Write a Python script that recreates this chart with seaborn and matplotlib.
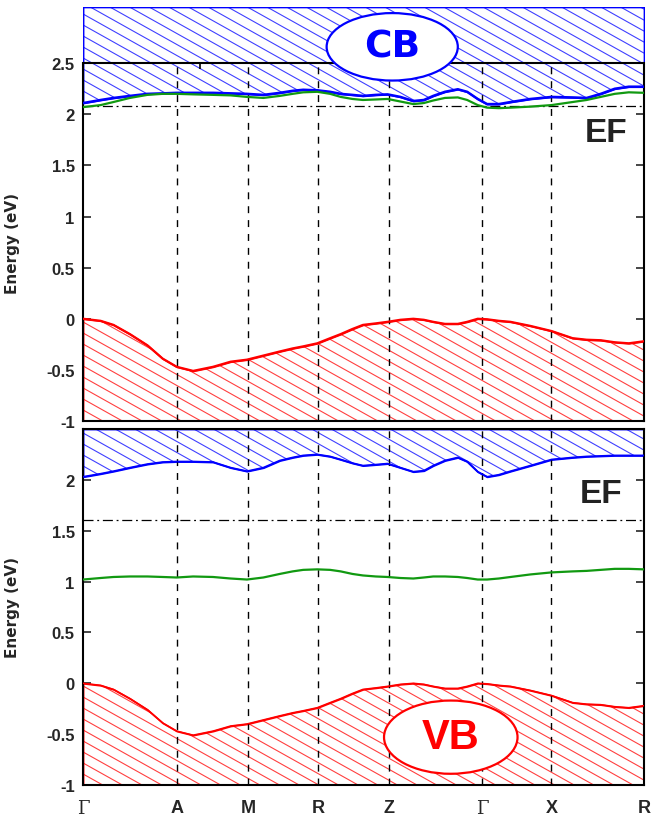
import numpy as np
import pandas as pd
import seaborn as sns
import matplotlib
matplotlib.use("Agg")
import matplotlib.pyplot as plt
from matplotlib.collections import LineCollection
from matplotlib.patches import Ellipse
from matplotlib.ticker import FuncFormatter

# k-path positions and labels
kpoints = [0.0, 0.80, 1.41, 2.01, 2.61, 3.41, 4.00, 4.79]
klabels = ["\u0393", "A", "M", "R", "Z", "\u0393", "X", "R"]

# sampled k grid (shared by all bands)
k = [0.00, 0.15, 0.26, 0.40, 0.55, 0.68, 0.80, 0.94, 1.11, 1.26, 1.40,
     1.54, 1.68, 1.79, 1.88, 2.00, 2.11, 2.20, 2.30, 2.39, 2.50, 2.60,
     2.71, 2.82, 2.91, 2.99, 3.09, 3.20, 3.28, 3.37, 3.45, 3.55, 3.65,
     3.82, 4.00, 4.18, 4.30, 4.42, 4.54, 4.66, 4.79]

# top panel: conduction band edge and impurity band
cb_top = [2.11, 2.14, 2.16, 2.18, 2.20, 2.205, 2.21, 2.21, 2.21, 2.205, 2.20,
          2.19, 2.21, 2.23, 2.24, 2.235, 2.22, 2.20, 2.19, 2.18, 2.19, 2.195,
          2.17, 2.13, 2.14, 2.18, 2.22, 2.245, 2.22, 2.15, 2.10, 2.10, 2.12,
          2.15, 2.17, 2.165, 2.16, 2.20, 2.25, 2.27, 2.27]
imp_top = [2.07, 2.09, 2.12, 2.16, 2.19, 2.20, 2.20, 2.195, 2.19, 2.185, 2.17,
           2.16, 2.18, 2.20, 2.215, 2.22, 2.20, 2.17, 2.15, 2.14, 2.145, 2.15,
           2.125, 2.10, 2.11, 2.135, 2.16, 2.165, 2.14, 2.09, 2.065, 2.06, 2.065,
           2.075, 2.09, 2.12, 2.14, 2.17, 2.20, 2.215, 2.21]

# valence band edge (same in both panels)
vb = [0.00, -0.02, -0.06, -0.15, -0.26, -0.39, -0.47, -0.51, -0.47, -0.42, -0.40,
      -0.36, -0.32, -0.29, -0.27, -0.24, -0.19, -0.15, -0.10, -0.06, -0.045, -0.03,
      -0.01, 0.00, -0.01, -0.03, -0.05, -0.05, -0.03, 0.00, -0.005, -0.02, -0.03,
      -0.07, -0.12, -0.19, -0.205, -0.21, -0.23, -0.24, -0.22]

# bottom panel: conduction band edge and impurity band
cb_bot = [2.03, 2.06, 2.085, 2.12, 2.155, 2.175, 2.18, 2.18, 2.175, 2.12, 2.085,
          2.12, 2.19, 2.22, 2.24, 2.25, 2.23, 2.20, 2.165, 2.14, 2.15, 2.16,
          2.12, 2.08, 2.09, 2.14, 2.19, 2.22, 2.18, 2.08, 2.03, 2.05, 2.085,
          2.14, 2.20, 2.22, 2.23, 2.235, 2.24, 2.24, 2.24]
imp_bot = [1.02, 1.035, 1.045, 1.05, 1.05, 1.045, 1.04, 1.05, 1.045, 1.03, 1.02,
           1.04, 1.075, 1.10, 1.115, 1.12, 1.115, 1.10, 1.075, 1.06, 1.05, 1.045,
           1.035, 1.03, 1.04, 1.05, 1.05, 1.045, 1.035, 1.02, 1.02, 1.03, 1.045,
           1.07, 1.09, 1.10, 1.105, 1.115, 1.125, 1.125, 1.12]

ef_top = 2.08
ef_bot = 1.61
yticks_top = [-1, -0.5, 0, 0.5, 1, 1.5, 2, 2.5]
yticks_bot = [-1, -0.5, 0, 0.5, 1, 1.5, 2]

sns.set_theme(style="white")
plt.rcParams["font.family"] = ["Liberation Sans", "DejaVu Sans"]
plt.rcParams["font.weight"] = "bold"

BLUE = "#0000ff"
RED = "#ff0000"
GREEN = "#119911"


def hatch_fill(ax, x, y1, y2, color):
    poly = ax.fill_between(x, y1, y2, facecolor="white", edgecolor=color,
                           linewidth=1.3, zorder=1)
    fig = ax.figure
    pos = ax.get_position()
    w = pos.width * fig.get_figwidth() * fig.dpi
    h = pos.height * fig.get_figheight() * fig.dpi
    slope, gap = -0.56, 11.0
    segs = [[(0, b / h), (1, (b + slope * w) / h)]
            for b in np.arange(0, h - slope * w + gap, gap)]
    lc = LineCollection(segs, colors=color, linewidths=0.8, alpha=0.75,
                        transform=ax.transAxes, zorder=1.5)
    ax.add_collection(lc, autolim=False)
    lc.set_clip_path(poly.get_paths()[0], poly.get_transform())


def style_axis(ax, ylim, yticks, show_xlabels):
    ax.set_xlim(0, kpoints[-1])
    ax.set_ylim(*ylim)
    ax.set_yticks(yticks)
    ax.yaxis.set_major_formatter(FuncFormatter(lambda v, p: "%g" % v))
    ax.tick_params(axis="y", direction="in", length=6, width=1.2,
                   left=True, right=True, labelsize=12, pad=6)
    ax.set_xticks(kpoints)
    ax.set_xticks([0, 1, 2, 3, 4], minor=True)
    ax.tick_params(axis="x", which="major", length=0, pad=10, labelsize=13)
    ax.tick_params(axis="x", which="minor", direction="in", length=6,
                   width=1.2, bottom=True, top=True)
    if show_xlabels:
        ax.set_xticklabels(klabels)
        for lab in ax.get_xticklabels():
            if lab.get_text() == "\u0393":
                lab.set_fontfamily("DejaVu Serif")
                lab.set_fontweight("normal")
    else:
        ax.set_xticklabels([])
    for sp in ax.spines.values():
        sp.set_color("black")
        sp.set_linewidth(1.5)
    ax.set_ylabel("Energy (eV)", fontsize=11, fontweight="bold",
                  family=["DejaVu Sans"])
    ax.yaxis.set_label_coords(-0.112, 0.5)
    ax.vlines(kpoints[1:-1], -1, 2.5, colors="black", linewidth=1,
              linestyles=(0, (5, 5)), zorder=3)


fig = plt.figure(figsize=(6.68, 8.2), dpi=100)
ax1 = fig.add_axes([0.1243, 0.4854, 0.8398, 0.5049])
ax2 = fig.add_axes([0.1243, 0.0415, 0.8398, 0.4341])

# ---- top panel ----
style_axis(ax1, (-1, 3.05), yticks_top, False)
ax1.spines["top"].set_visible(False)
ax1.spines["left"].set_bounds(-1, 2.5)
ax1.spines["right"].set_bounds(-1, 2.5)
ax1.tick_params(axis="x", which="minor", top=False)
ax1.yaxis.set_label_coords(-0.112, (0.75 + 1) / 4.05)
hatch_fill(ax1, k, cb_top, 3.05, BLUE)
hatch_fill(ax1, k, -1, vb, RED)
sns.lineplot(x=k, y=cb_top, color=BLUE, linewidth=1.8, ax=ax1, zorder=4)
sns.lineplot(x=k, y=imp_top, color=GREEN, linewidth=1.6, ax=ax1, zorder=4)
sns.lineplot(x=k, y=vb, color=RED, linewidth=1.6, ax=ax1, zorder=4)
ax1.axhline(2.5, color="black", linewidth=1.5, zorder=3)
ax1.vlines([1, 3], 2.44, 2.5, colors="black", linewidth=1.2, zorder=3)
ax1.axhline(ef_top, color="black", linewidth=0.9,
            linestyle=(0, (8, 3, 1.5, 3)), zorder=3)
ax1.text(4.47, 1.82, "EF", fontsize=24, fontweight="bold",
         ha="center", va="center", color="#222222")
ax1.add_patch(Ellipse((2.64, 2.66), 1.12, 0.66, facecolor="white",
                      edgecolor=BLUE, linewidth=1.6, zorder=6))
ax1.text(2.64, 2.66, "CB", fontsize=27, fontweight="bold", color=BLUE,
         family=["DejaVu Sans"], ha="center", va="center", zorder=7)

# ---- bottom panel ----
style_axis(ax2, (-1, 2.5), yticks_bot, True)
hatch_fill(ax2, k, cb_bot, 2.5, BLUE)
hatch_fill(ax2, k, -1, vb, RED)
sns.lineplot(x=k, y=cb_bot, color=BLUE, linewidth=1.3, ax=ax2, zorder=4)
sns.lineplot(x=k, y=imp_bot, color=GREEN, linewidth=1.6, ax=ax2, zorder=4)
sns.lineplot(x=k, y=vb, color=RED, linewidth=1.1, ax=ax2, zorder=4)
ax2.axhline(ef_bot, color="black", linewidth=0.9,
            linestyle=(0, (8, 3, 1.5, 3)), zorder=3)
ax2.text(4.42, 1.87, "EF", fontsize=24, fontweight="bold",
         ha="center", va="center", color="#222222")
ax2.add_patch(Ellipse((3.14, -0.53), 1.14, 0.72, facecolor="white",
                      edgecolor=RED, linewidth=1.6, zorder=6))
ax2.text(3.14, -0.53, "VB", fontsize=30, fontweight="bold", color=RED,
         ha="center", va="center", zorder=7)

fig.savefig("out.png", dpi=100)
